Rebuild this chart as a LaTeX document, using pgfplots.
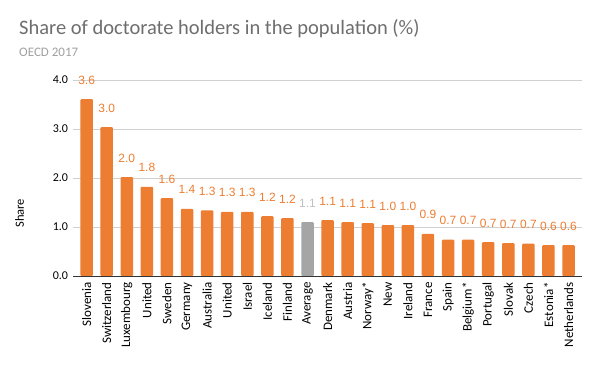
\documentclass[border=0pt]{standalone}
\usepackage{fontspec}
\setmainfont{Carlito}
\newfontfamily\arialf{Liberation Sans}
\usepackage{pgfplots}
\pgfplotsset{compat=1.18}
\definecolor{barc}{HTML}{ED7D31}
\definecolor{avgc}{HTML}{A5A5A5}
\definecolor{gridc}{HTML}{D0D0D0}
\definecolor{titlec}{HTML}{6E6E6E}
\definecolor{subc}{HTML}{A0A0A0}
\begin{document}
\begin{tikzpicture}[x=1pt,y=1pt]
\path[use as bounding box] (0,0) rectangle (600,371);
\node[anchor=base west, font=\fontsize{20.5}{24}\selectfont, text=titlec, inner sep=0] at (19,336) {Share of doctorate holders in the population (\%)};
\node[anchor=base west, font=\fontsize{13}{15}\selectfont, text=subc, inner sep=0] at (19,314) {OECD 2017};
\begin{axis}[
  at={(73pt,95pt)}, anchor=south west,
  scale only axis, width=509pt, height=196pt,
  xmin=-0.68, xmax=24.67, ymin=0, ymax=4,
  ybar, bar width=12.5pt,
  ytick={0,1,2,3,4},
  xmajorgrids=false, ymajorgrids=true,
  major grid style={draw=gridc, line width=0.8pt},
  axis lines*=left,
  x axis line style={draw=black!80, line width=0.8pt, -},
  y axis line style={draw=none},
  tick style={draw=none},
  xtick={0,...,24},
  xticklabels={Slovenia,Switzerland,Luxembourg,United,Sweden,Germany,Australia,United,Israel,Iceland,Finland,Average,Denmark,Austria,Norway*,New,Ireland,France,Spain,Belgium*,Portugal,Slovak,Czech,Estonia*,Netherlands},
  x tick label style={rotate=90, anchor=east, font=\fontsize{13}{15}\selectfont, text=black, inner sep=2pt},
  yticklabel style={font=\fontsize{12}{13}\selectfont, text=black, xshift=-1.5pt},
  /pgf/number format/assume math mode=true,
  yticklabel={\pgfmathprintnumber[fixed,fixed zerofill,precision=1]{\tick}},
  ylabel={Share}, ylabel style={at={(axis description cs:-0.105,0.32)}, anchor=center, font=\fontsize{12.5}{14}\selectfont, text=black},
  nodes near coords,
  nodes near coords style={font=\arialf\fontsize{12}{14}\selectfont, anchor=center, yshift=19pt, inner sep=0,
    /pgf/number format/fixed, /pgf/number format/fixed zerofill, /pgf/number format/precision=1},
]
\addplot[fill=barc, draw=none, bar shift=0pt, rounded corners=1pt, nodes near coords style={text=barc}] coordinates {
(0,3.61) (1,3.04) (2,2.02) (3,1.82) (4,1.59) (5,1.37) (6,1.34) (7,1.31) (8,1.31) (9,1.22) (10,1.18)
(12,1.14) (13,1.10) (14,1.08) (15,1.04) (16,1.04) (17,0.86) (18,0.74) (19,0.74) (20,0.69) (21,0.67) (22,0.66) (23,0.63) (24,0.63)};
\addplot[fill=avgc, draw=none, bar shift=0pt, rounded corners=1pt, nodes near coords style={text=avgc!70}] coordinates {(11,1.10)};
\end{axis}
\end{tikzpicture}
\end{document}
